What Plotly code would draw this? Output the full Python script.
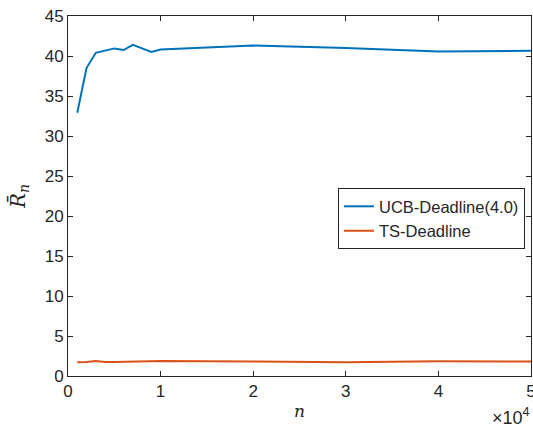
import plotly.graph_objects as go

n_values = [1000, 2000, 3000, 4000, 5000, 6000, 7000, 8000, 9000, 10000, 20000, 30000, 40000, 50000]
ucb_values = [32.9, 38.5, 40.4, 40.7, 40.95, 40.75, 41.4, 40.95, 40.5, 40.8, 41.3, 41.0, 40.55, 40.65]
ts_values = [1.72, 1.75, 1.88, 1.75, 1.75, 1.78, 1.85, 1.8, 1.82, 1.88, 1.8, 1.72, 1.85, 1.8]

x_tickvals = [0, 10000, 20000, 30000, 40000, 50000]
x_ticktext = ["0", "1", "2", "3", "4", "5"]
y_tickvals = [0, 5, 10, 15, 20, 25, 30, 35, 40, 45]

axis_color = "#262626"
text_color = "#262626"
font_family = "Liberation Sans, Arial, Helvetica, sans-serif"
serif_family = "DejaVu Serif, Liberation Serif, serif"

fig = go.Figure()
fig.add_trace(go.Scatter(x=n_values, y=ucb_values, mode="lines", name="UCB-Deadline(4.0)",
                         line=dict(color="#0072BD", width=2)))
fig.add_trace(go.Scatter(x=n_values, y=ts_values, mode="lines", name="TS-Deadline",
                         line=dict(color="#D95319", width=2)))

axis_common = dict(showgrid=False, zeroline=False, showline=True, linecolor=axis_color, linewidth=1,
                   mirror="ticks", ticks="inside", ticklen=5, tickcolor=axis_color, automargin=False,
                   tickfont=dict(size=17, color=text_color, family=font_family))

fig.update_xaxes(range=[0, 50000], tickvals=x_tickvals, ticktext=x_ticktext,
                 ticklabeloverflow="allow",
                 title=dict(text="<i>n</i>", font=dict(size=17, family=serif_family, color=text_color), standoff=4),
                 **axis_common)
fig.update_yaxes(range=[0, 45], tickvals=y_tickvals,
                 title=dict(text="<i>R̄</i><sub><i>n</i></sub>", font=dict(size=20, family=serif_family, color=text_color), standoff=13),
                 **axis_common)

fig.add_annotation(text="×10<sup>4</sup>", xref="paper", yref="paper", x=1.0, y=-0.078,
                   xanchor="right", yanchor="top", showarrow=False, borderpad=0,
                   font=dict(size=18, family=font_family, color=text_color))

fig.update_layout(
    width=533, height=429,
    margin=dict(l=68, r=2, t=16, b=53),
    paper_bgcolor="white", plot_bgcolor="white",
    font=dict(family=font_family, color=text_color),
    legend=dict(x=0.987, y=0.522, xanchor="right", yanchor="top",
                bgcolor="white", bordercolor=axis_color, borderwidth=1,
                font=dict(size=16.5, family=font_family, color=text_color),
                tracegroupgap=0, itemwidth=30),
    showlegend=True,
)

fig.write_html("out.html", config={"displayModeBar": False},
               post_script="document.body.style.margin='0';document.body.style.padding='0';")
